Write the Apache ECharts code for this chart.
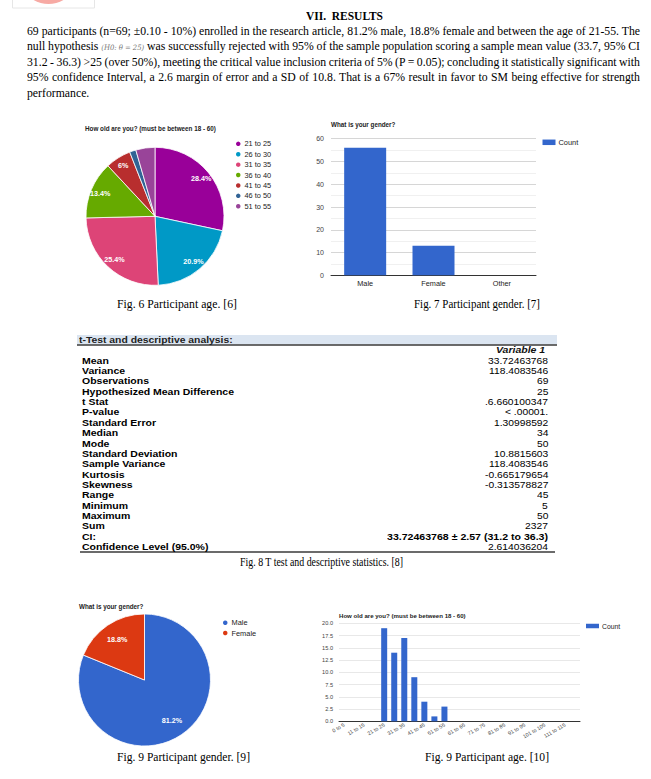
<!DOCTYPE html>
<html><head><meta charset="utf-8">
<script src="https://cdn.jsdelivr.net/npm/echarts@6/dist/echarts.min.js"></script>
<style>
html,body{margin:0;padding:0;background:#fff;width:651px;height:779px;overflow:hidden;}
#chart{position:absolute;left:0;top:0;width:651px;height:779px;}
#layer{position:absolute;left:0;top:0;width:651px;height:779px;pointer-events:none;}
.t{position:absolute;white-space:nowrap;transform-origin:0 50%;}
</style></head><body>
<div id="chart"></div>
<div id="layer"></div>
<script>
// ---------- DATA ----------
const ageGroups = ['21 to 25','26 to 30','31 to 35','36 to 40','41 to 45','46 to 50','51 to 55'];
const ageCounts = [19,14,17,9,4,1,3];
const genders = ['Male','Female','Other'];
const genderCounts = [56,13,0];
const histBins = ['0 to 5','6 to 10','11 to 15','16 to 20','21 to 25','26 to 30','31 to 35','36 to 40',
  '41 to 45','46 to 50','51 to 55','56 to 60','61 to 65','66 to 70','71 to 75','76 to 80',
  '81 to 85','86 to 90','91 to 95','96 to 100','101 to 105','106 to 110','111 to 115','116 to 120'];
const histCounts = [0,0,0,0,19,14,17,9,4,1,3,0,0,0,0,0,0,0,0,0,0,0,0,0];
const statLabels = ['Mean','Variance','Observations','Hypothesized Mean Difference','t Stat','P-value',
  'Standard Error','Median','Mode','Standard Deviation','Sample Variance','Kurtosis','Skewness',
  'Range','Minimum','Maximum','Sum','CI:','Confidence Level (95.0%)'];
const statValues = ['33.72463768','118.4083546','69','25','.6.660100347','< .00001.','1.30998592',
  '34','50','10.8815603','118.4083546','-0.665179654','-0.313578827','45','5','50','2327',
  '33.72463768 \u00b1 2.57 (31.2 to 36.3)','2.614036204'];
const titleAge = 'How old are you? (must be between 18 - 60)';
const titleGender = 'What is your gender?';

// ---------- STYLE ----------
const ageColors = ['#990099','#0099c6','#dd4477','#66aa00','#b82e2e','#316395','#994499'];
const genderColors = ['#3366cc','#dc3912'];
const barColor = '#3366cc';

function pctLabel(v, total){
  const p = Math.round(v/total*1000)/10;
  if (p < 5) return '';
  return (p % 1 === 0 ? p.toFixed(0) : p.toFixed(1)) + '%';
}
const ageTotal = ageCounts.reduce((a,b)=>a+b,0);
const gPie = genders.map((g,i)=>({name:g,value:genderCounts[i]})).filter(d=>d.value>0);
const gTotal = gPie.reduce((a,d)=>a+d.value,0);

const agePieData = ageGroups.map((n,i)=>({name:n,value:ageCounts[i],itemStyle:{color:ageColors[i]}}));
const genderPieData = gPie.map((d,i)=>({name:d.name,value:d.value,itemStyle:{color:genderColors[i]}}));
const ghost = arr => arr.map(d=>({name:d.name,value:d.value,itemStyle:{color:'rgba(0,0,0,0)'}}));

const FF = '"Liberation Sans", Arial, sans-serif';
const chart = echarts.init(document.getElementById('chart'), null, {renderer:'svg', width:651, height:779});
const titleStyle = {fontSize:6.3, fontWeight:'bold', color:'#222', fontFamily:FF};
const legText = {fontSize:7.4, color:'#222', padding:[0,0,0,-2]};
chart.setOption({
  animation:false,
  textStyle:{fontFamily:FF},
  title:[
    {text:titleAge, left:85, top:125.8, padding:0, textStyle:titleStyle},
    {text:titleGender, left:331, top:121.8, padding:0, textStyle:titleStyle},
    {text:titleGender, left:79, top:603.8, padding:0, textStyle:titleStyle},
    {text:titleAge, left:339, top:612, padding:0, textStyle:Object.assign({},titleStyle,{fontSize:6.1})}
  ],
  legend:[
    {data:ageGroups, orient:'vertical', left:234, top:139.6, padding:0, icon:'circle', itemWidth:6.5, itemHeight:6.5,
      itemGap:1.9, selectedMode:false, textStyle:legText},
    {data:['Count'], left:542.5, top:138.8, padding:0, icon:'rect', itemWidth:13, itemHeight:5.5,
      selectedMode:false, textStyle:legText},
    {data:gPie.map(d=>d.name), orient:'vertical', left:221, top:618.5, padding:0, icon:'circle', itemWidth:6.5, itemHeight:6.5,
      itemGap:1.8, selectedMode:false, textStyle:legText},
    {data:['Count'], left:586, top:622.5, padding:0, icon:'rect', itemWidth:13, itemHeight:4.5,
      selectedMode:false, textStyle:Object.assign({},legText,{fontSize:6.8})}
  ],
  grid:[
    {left:331, top:138.7, width:205, height:136.6, outerBoundsMode:'none', containLabel:false},
    {left:339, top:623.3, width:241, height:98, outerBoundsMode:'none', containLabel:false}
  ],
  xAxis:[
    {type:'category', gridIndex:0, data:genders, axisTick:{show:false},
      axisLine:{lineStyle:{color:'#333', width:1}},
      axisLabel:{fontSize:7.3, color:'#222', margin:5}},
    {type:'category', gridIndex:1, data:histBins, axisTick:{show:false},
      axisLine:{lineStyle:{color:'#333', width:1}},
      axisLabel:{fontSize:5.3, color:'#444', margin:3, rotate:30, interval:1}}
  ],
  yAxis:[
    {type:'value', gridIndex:0, min:0, max:60, interval:10,
      axisLine:{show:false}, axisTick:{show:false},
      axisLabel:{fontSize:7, color:'#444', margin:7},
      splitLine:{lineStyle:{color:'#d6d6d6', width:1}},
      minorTick:{show:false, splitNumber:2},
      minorSplitLine:{show:true, lineStyle:{color:'#f0f0f0', width:1}}},
    {type:'value', gridIndex:1, min:0, max:20, interval:2.5,
      axisLine:{show:false}, axisTick:{show:false},
      axisLabel:{fontSize:5.6, color:'#444', margin:6, formatter:v=>v.toFixed(1)},
      splitLine:{lineStyle:{color:'#e8e8e8', width:1}}}
  ],
  series:[
    {type:'pie', name:'age', center:[155,216.3], radius:[0,69], startAngle:90, clockwise:true,
      data:agePieData, label:{show:false}, labelLine:{show:false}, silent:true,
      itemStyle:{borderColor:'#fff', borderWidth:0.8}, emphasis:{disabled:true}},
    {type:'pie', name:'ageLabels', center:[155,216.3], radius:[44,69], startAngle:90, clockwise:true,
      data:ghost(agePieData), silent:true, legendHoverLink:false, emphasis:{disabled:true},
      labelLine:{show:false},
      label:{show:true, position:'inside', color:'#fff', fontSize:7.2, fontWeight:'bold',
        formatter:p=>pctLabel(p.value, ageTotal)}},
    {type:'bar', name:'Count', xAxisIndex:0, yAxisIndex:0, data:genderCounts, barWidth:42,
      itemStyle:{color:barColor}, silent:true},
    {type:'pie', name:'gender', center:[144.5,680], radius:[0,66], startAngle:90, clockwise:true,
      data:genderPieData, label:{show:false}, labelLine:{show:false}, silent:true,
      itemStyle:{borderColor:'#fff', borderWidth:0.8}, emphasis:{disabled:true}},
    {type:'pie', name:'genderLabels', center:[144.5,680], radius:[26,66], startAngle:90, clockwise:true,
      data:ghost(genderPieData), silent:true, legendHoverLink:false, emphasis:{disabled:true},
      labelLine:{show:false},
      label:{show:true, position:'inside', color:'#fff', fontSize:7.2, fontWeight:'bold',
        formatter:p=>pctLabel(p.value, gTotal)}},
    {type:'bar', name:'Count', xAxisIndex:1, yAxisIndex:1, data:histCounts, barWidth:6,
      itemStyle:{color:barColor}, silent:true}
  ],
  graphic:[
    {type:'circle', shape:{cx:48.5, cy:-26, r:30}, style:{fill:'#f7aaa4'}, silent:true},
    {type:'rect', shape:{x:12.5, y:-5, width:82, height:13}, style:{fill:'none', stroke:'#e6e6e6', lineWidth:1}, silent:true},
    // table decorations
    {type:'rect', shape:{x:77, y:335, width:480, height:9.5}, style:{fill:'#dbe5f1'}, silent:true},
    {type:'line', shape:{x1:77, y1:345, x2:557, y2:345}, style:{stroke:'#3a3a3a', lineWidth:1.4}, silent:true},
    {type:'line', shape:{x1:80, y1:552, x2:555, y2:552}, style:{stroke:'#3a3a3a', lineWidth:1.4}, silent:true}
  ]
});

// ---------- HTML TEXT ----------
const layer = document.getElementById('layer');
function put(html, x, yc, font, anchor, sx, color, lh){
  const el = document.createElement('div');
  el.className = 't';
  el.style.font = font;
  el.style.lineHeight = lh || '1.15';
  if (color) el.style.color = color;
  el.innerHTML = html;
  layer.appendChild(el);
  const r = el.getBoundingClientRect();
  const w = r.width, h = r.height;
  const fw = w * sx;
  const left = anchor === 'left' ? x : anchor === 'right' ? x - fw : x - fw/2;
  el.style.left = left + 'px';
  el.style.top = (yc - h/2) + 'px';
  el.style.transform = 'scaleX(' + sx + ')';
  return el;
}
function measure(html, font){
  const el = document.createElement('div');
  el.className = 't'; el.style.font = font; el.innerHTML = html;
  layer.appendChild(el);
  const w = el.getBoundingClientRect().width;
  layer.removeChild(el);
  return w;
}
function fit(html, x1, x2, yc, font, color){
  const w = measure(html, font);
  const sx = (x2 - x1) / w;
  put(html, x1, yc, font, 'left', sx, color);
  return sx;
}

const serif = '12.6px "Liberation Serif", "Times New Roman", serif';
fit('VII.&nbsp; RESULTS', 306, 383, 16, 'bold 12.6px "Liberation Serif", serif', '#000');
const paraLines = [
  '69 participants (n=69; \u00b10.10 - 10%) enrolled in the research article, 81.2% male, 18.8% female and between the age of 21-55. The',
  'null hypothesis <span style="font:italic 7.4px \'DejaVu Serif\', serif;color:#777">(H0: \u03b8 = 25)</span> was successfully rejected with 95% of the sample population scoring a sample mean value (33.7, 95% CI',
  '31.2 - 36.3) &gt;25 (over 50%), meeting the critical value inclusion criteria of 5% (P = 0.05); concluding it statistically significant with',
  '95% confidence Interval, a 2.6 margin of error and a SD of 10.8. That is a 67% result in favor to SM being effective for strength'
];
const paraY = [31.5, 47, 62.5, 78, 93.5];
let sxSum = 0;
paraLines.forEach((l)=>{ sxSum += 613 / measure(l, serif); });
const sxAvg = sxSum / paraLines.length;
paraLines.forEach((l,i)=>{
  const w = measure(l, serif);
  const nSpaces = (l.replace(/<[^>]*>/g,'').match(/ /g)||[]).length;
  const extra = (613 / sxAvg - w) / nSpaces;
  put('<span style="word-spacing:' + extra + 'px">' + l + '</span>', 27, paraY[i], serif, 'left', sxAvg, '#000', '1.05');
});
put('performance.', 27, paraY[4], serif, 'left', sxAvg, '#000', '1.05');

// captions
const capFont = '12px "Liberation Serif", "Times New Roman", serif';
fit('Fig. 6 Participant age. [6]', 117, 237, 305, capFont, '#000');
fit('Fig. 7 Participant gender. [7]', 414, 540, 305, capFont, '#000');
fit('Fig. 8 T test and descriptive statistics. [8]', 240, 403, 563, capFont, '#000');
fit('Fig. 9 Participant gender. [9]', 117, 250, 758, capFont, '#000');
fit('Fig. 9 Participant age. [10]', 425, 549, 758, capFont, '#000');

// table
const TF = '"Liberation Sans", Arial, sans-serif';
const tblLabelFont = 'bold 8.6px ' + TF;
const tblValFont = '8.6px ' + TF;
const tblValBold = 'bold 8.6px ' + TF;
const LH = '1';
const sxLab = 152 / measure('Hypothesized Mean Difference', tblLabelFont);
const sxVal = 60 / measure('33.72463768', tblValFont);
const sxCI = 161 / measure(statValues[17], tblValBold);
put('t-Test and descriptive analysis:', 79, 339.8, tblLabelFont, 'left', 153.7 / measure('t-Test and descriptive analysis:', tblLabelFont), '#222', LH);
put('<i>Variable 1</i>', 545, 350.5, tblLabelFont, 'right', sxLab, '#111', LH);
const rowTop = 361, rowStep = 10.35;
statLabels.forEach((s,i)=>{
  const y = rowTop + i * rowStep;
  put(s, 82, y, tblLabelFont, 'left', sxLab, '#000', LH);
  const bold = (i === 17);
  put(statValues[i], 548, y, bold ? tblValBold : tblValFont, 'right', bold ? sxCI : sxVal, '#000', LH);
});
</script>
</body></html>
